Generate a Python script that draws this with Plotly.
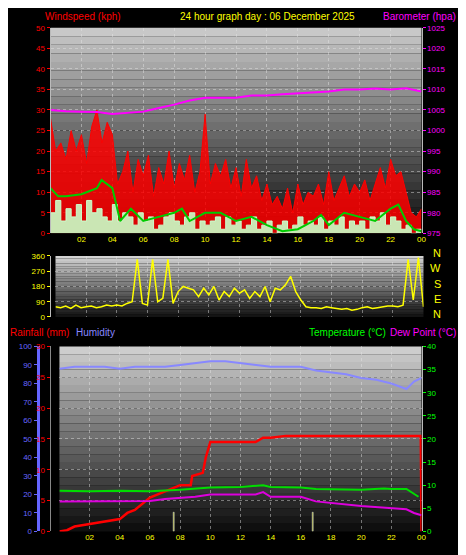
import numpy as np
import plotly.graph_objects as go

gust = [28,20,22,18,25,20,24,17,26,30,22,27,24,12,15,20,10,18,14,19,9,16,12,20,11,17,13,19,10,15,
        29,12,17,14,18,11,16,9,18,11,14,8,12,7,9,6,11,5,12,7,10,9,12,7,15,8,11,14,9,12,10,13,8,12,16,11,
        18,14,15,10,5,4,6]
speed = [5,8,3,6,4,7,3,8,5,6,4,3,7,3,5,4,2,5,3,4,1,2,4,5,3,2,4,5,1,3,2,3,4,1,4,2,3,1,2,4,1,2,3,0,2,3,1,
         2,4,2,3,2,4,1,3,2,4,1,3,2,3,1,4,3,5,2,4,3,1,2,0,1,1]
avg_h = [0,0.5,1,2,3,3.3,4,4.5,5.2,6,7,8,8.5,9,10,11,11.5,12,13,14,15,16,17,17.5,18,19,20,21,22,22.5,23,23.5,24]
avg_v = [11,9,9,9.5,11,13,11,3,6,3,4,5,6,3,5,5,4,3,4,2,0.5,1,3,4.5,2,5,4,3,6,7,3,1,0.5]
baro_h = list(range(25))
baro_v = [1005,1004.7,1004.6,1004.5,1004,1004.3,1004.6,1005.5,1006.3,1007.3,1008,1008,1008,1008.5,1008.5,1008.8,
          1009,1009.3,1009.5,1010,1010,1010.2,1010,1010.3,1009.5]
wdir = [60,55,65,50,70,55,60,65,55,60,70,65,70,65,80,90,340,80,70,340,90,110,340,80,150,180,170,160,120,170,
        130,180,100,150,120,170,140,160,110,150,120,180,90,170,160,190,240,150,100,60,55,55,50,60,55,50,45,
        50,40,45,55,60,50,55,60,65,65,60,70,340,100,350,60]
hum_h = [0,1,2,3,4,5,6,7,8,9,10,11,12,13,14,15,16,17,18,19,20,21,22,23,23.5,24]
hum_v = [88,89,89,89,88,89,89,89,90,91,92,92,91,90,89,89,89,87,86,85,83,82,80,77,81,83]
rain_h = [0,0.5,1,2,3,4,4.5,5,6,7,8,8.7,8.8,9.5,9.7,10,12,13,13.5,14,15,23.95,24]
rain_v = [0,0.2,0.8,1.2,1.6,2,3,3.5,5.5,6.5,7.5,7.5,9,9.5,12,14.5,14.5,14.5,15.2,15.2,15.5,15.5,0]
temp_h = [0,2,4,6,8,10,12,13.5,14,16,17,20,21.5,22,23,23.8]
temp_v = [8.8,8.7,8.8,8.7,9,9.5,9.6,10,9.6,9.5,9.2,9,9.3,9.2,9.2,7.5]
dew_h = [0,2,4,6,7,9,10,13,13.5,14,16,17,20,22,23,23.5,24]
dew_v = [6.5,6.5,6.5,6.6,7,7.5,8,8,8.5,7.5,7.5,6.5,5.5,5,4.8,4,3.5]
rr_h = [7.6,16.8]
rr_v = [3,3]
xticks = list(range(2,25,2))
xlabels = ["%02d" % (h % 24) for h in xticks]

W, H = 466, 555
def px(a, b): return [a / W, b / W]
def py(top, bot): return [1 - bot / H, 1 - top / H]

fig = go.Figure()
t = lambda v: np.arange(len(v)) / 3
fig.add_trace(go.Scatter(x=t(gust), y=gust, mode="lines", line=dict(color="#ff0000", width=1),
                         fill="tozeroy", fillcolor="rgba(255,0,0,0.85)", xaxis="x", yaxis="y"))
fig.add_trace(go.Scatter(x=t(speed), y=speed, mode="lines", line=dict(color="#ccffcc", width=1, shape="hv"),
                         fill="tozeroy", fillcolor="rgba(200,255,200,0.9)", xaxis="x", yaxis="y"))
fig.add_trace(go.Scatter(x=avg_h, y=avg_v, mode="lines", line=dict(color="#00cc00", width=2), xaxis="x", yaxis="y"))
fig.add_trace(go.Scatter(x=baro_h, y=baro_v, mode="lines", line=dict(color="#ff00ff", width=2), xaxis="x", yaxis="y2"))
fig.add_trace(go.Scatter(x=t(wdir), y=wdir, mode="lines", line=dict(color="#ffff00", width=1.5), xaxis="x2", yaxis="y3"))
fig.add_trace(go.Bar(x=rr_h, y=rr_v, width=0.1, marker_color="#aaaa00", xaxis="x3", yaxis="y4"))
fig.add_trace(go.Scatter(x=rain_h, y=rain_v, mode="lines", line=dict(color="#ff0000", width=2.5), xaxis="x3", yaxis="y4"))
fig.add_trace(go.Scatter(x=hum_h, y=hum_v, mode="lines", line=dict(color="#8888ff", width=2), xaxis="x3", yaxis="y5"))
fig.add_trace(go.Scatter(x=temp_h, y=temp_v, mode="lines", line=dict(color="#00dd00", width=2), xaxis="x3", yaxis="y6"))
fig.add_trace(go.Scatter(x=dew_h, y=dew_v, mode="lines", line=dict(color="#dd00dd", width=2), xaxis="x3", yaxis="y6"))

f = dict(family="Liberation Sans, Arial", size=8)
grid = dict(showgrid=True, gridcolor="rgba(230,230,230,0.45)", griddash="dot", zeroline=False)
def xa(dom, anchor):
    return dict(domain=dom, anchor=anchor, range=[0, 24], tickvals=xticks, ticktext=xlabels,
                tickfont=dict(f, color="#ffff00"), ticks="", **grid)
def ya(rng, dtick, color, **kw):
    d = dict(range=rng, dtick=dtick, tickfont=dict(f, color=color), ticks="outside", ticklen=3,
             tickcolor=color, showline=True, linecolor="#bbbbbb", **grid)
    d.update(kw)
    return d

shapes = []
for xr, yr, top, bot in [("x", "y", 200, 15), ("x2", "y3", 210, 20), ("x3", "y4", 205, 15)]:
    n = 24
    for i in range(n):
        g = int(top + (bot - top) * i / (n - 1))
        shapes.append(dict(type="rect", xref=xr + " domain", yref=yr + " domain", x0=0, x1=1,
                           y0=1 - (i + 1) / n, y1=1 - i / n, fillcolor="rgb(%d,%d,%d)" % (g, g, g),
                           line_width=0, layer="below"))

fig.update_layout(
    width=W, height=H, margin=dict(l=0, r=0, t=0, b=0), paper_bgcolor="black", plot_bgcolor="black",
    showlegend=False, shapes=shapes, bargap=0,
    xaxis=xa(px(43, 418), "y"), xaxis2=dict(xa(px(48, 420), "y3"), showticklabels=False),
    xaxis3=xa(px(52, 418), "y4"),
    yaxis=ya([0, 50], 5, "#ff0000", domain=py(16, 225)),
    yaxis2=ya([975, 1025], 5, "#ff00ff", overlaying="y", side="right", showgrid=False),
    yaxis3=ya([0, 360], 90, "#ffff00", domain=py(248, 310)),
    yaxis4=ya([0, 30], 5, "#ff0000", domain=py(340, 528), linecolor="#888888", linewidth=1),
    yaxis5=ya([0, 100], 10, "#6666ff", overlaying="y4", anchor="free", position=30 / W,
              linecolor="#6666ff", linewidth=3, showgrid=False),
    yaxis6=ya([0, 40], 5, "#00ff00", overlaying="y4", side="right", showgrid=False),
)
ann = [("Windspeed (kph)", 35, 5, "#ff0000", "left"), ("24 hour graph day : 06 December 2025", 262, 5, "#ffff00", "center"),
       ("Barometer (hpa)", 455, 5, "#ff00ff", "right"), ("Rainfall (mm)", 0, 326, "#ff0000", "left"),
       ("Humidity", 67, 326, "#8888ff", "left"), ("Temperature (°C)", 384, 326, "#00ff00", "right"),
       ("Dew Point (°C)", 455, 326, "#ff00ff", "right")]
annotations = [dict(text=s, x=x / W, y=1 - y / H, xref="paper", yref="paper", xanchor=a, yanchor="middle",
                    showarrow=False, font=dict(family="Liberation Sans, Arial", size=10, color=c)) for s, x, y, c, a in ann]
for i, l in enumerate(["N", "W", "S", "E", "N"]):
    annotations.append(dict(text=l, x=440 / W, y=1 - (245 + i * 15.5) / H, xref="paper", yref="paper",
                            showarrow=False, font=dict(family="Liberation Sans, Arial", size=11, color="#ffff00")))
fig.update_layout(annotations=annotations)
fig.write_html("out.html")
